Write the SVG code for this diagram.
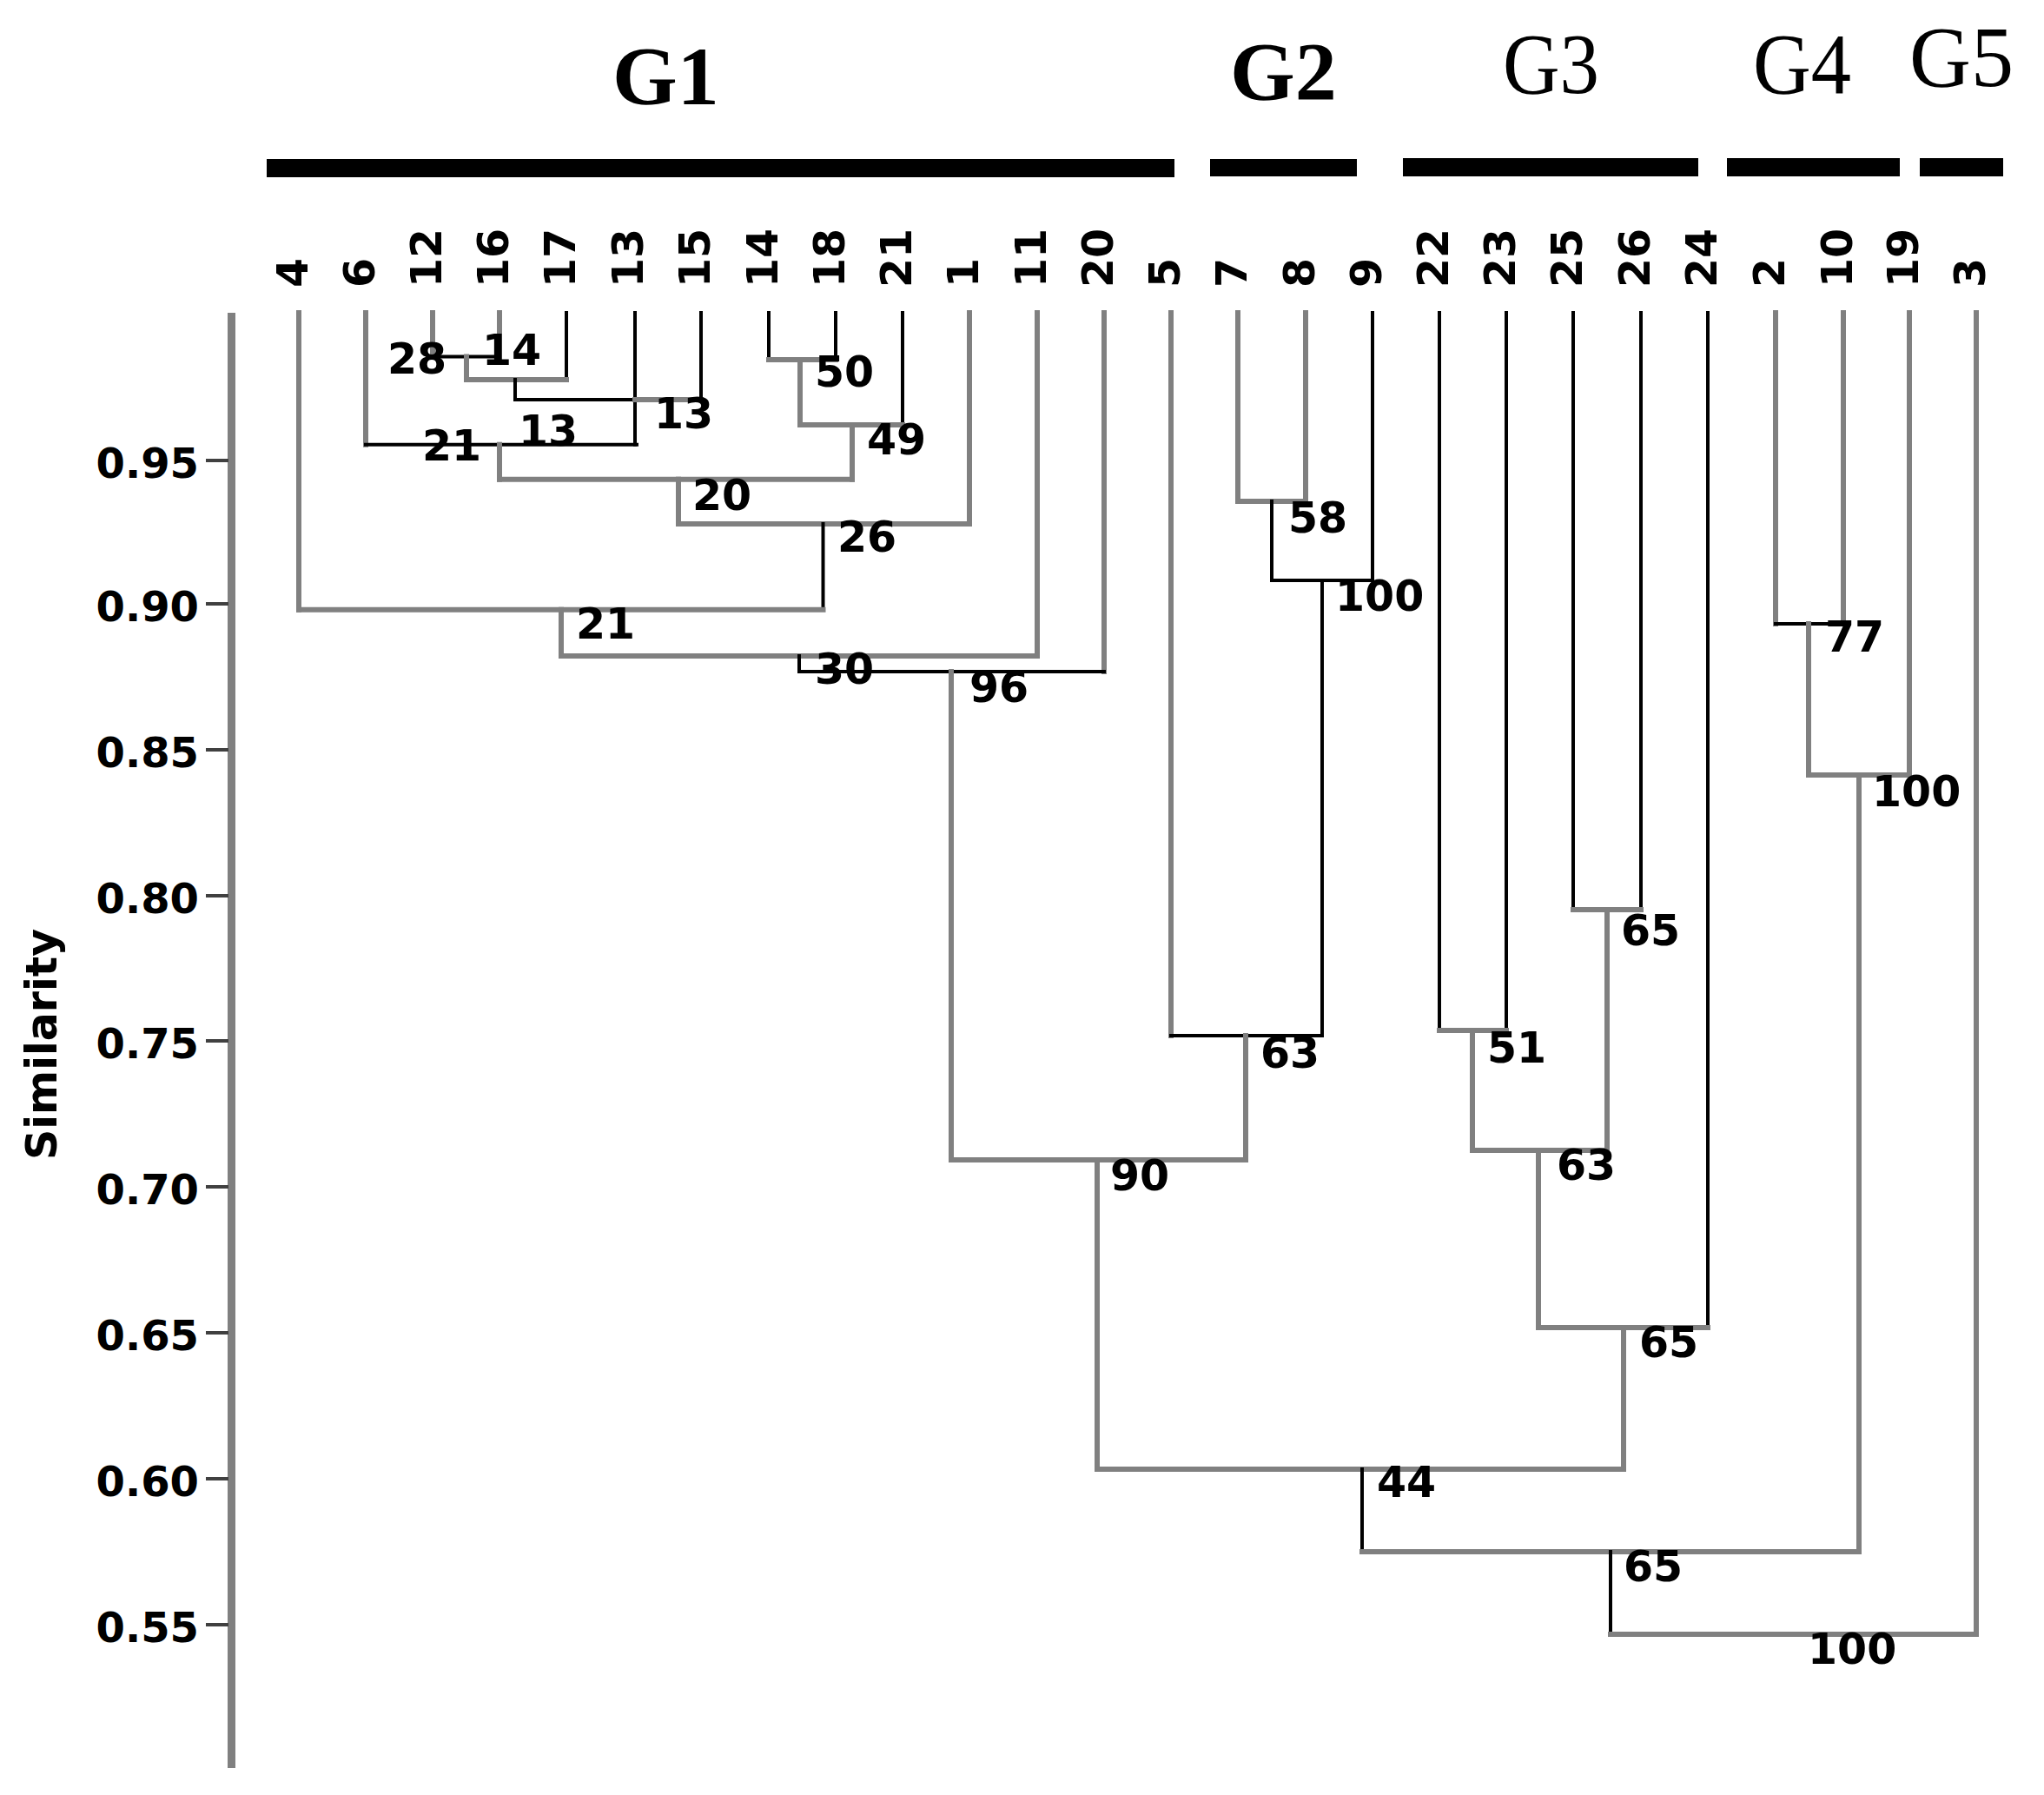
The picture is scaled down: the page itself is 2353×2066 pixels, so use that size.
<svg xmlns="http://www.w3.org/2000/svg" width="2353" height="2066" viewBox="0 0 2353 2066">
<style>
.g{stroke:#808080;stroke-width:6;fill:none;stroke-linecap:square}
.k{stroke:#000;stroke-width:4;fill:none;stroke-linecap:square}
.lb{font-family:"DejaVu Sans","Liberation Sans",sans-serif;font-weight:bold;font-size:49px;fill:#000}
.tk{font-family:"DejaVu Sans","Liberation Sans",sans-serif;font-weight:bold;font-size:48px;fill:#000;text-anchor:end}
.gt{font-family:"Liberation Serif","Times New Roman",serif;font-size:100px;fill:#000}
.gb{font-weight:bold;font-size:96px}
.bar{fill:#000}
.tick{stroke:#404040;stroke-width:4}
</style>
<rect width="2353" height="2066" fill="#fff"/>
<g id="groups">
<text class="gt gb" x="705" y="120">G1</text>
<text class="gt gb" x="1416" y="115">G2</text>
<text class="gt" x="1730" y="107" textLength="111" lengthAdjust="spacingAndGlyphs">G3</text>
<text class="gt" x="2018" y="107" textLength="113" lengthAdjust="spacingAndGlyphs">G4</text>
<text class="gt" x="2198" y="99" textLength="120" lengthAdjust="spacingAndGlyphs">G5</text>
<rect class="bar" x="307" y="183" width="1045" height="21"/>
<rect class="bar" x="1393" y="183" width="169" height="20"/>
<rect class="bar" x="1615" y="182" width="340" height="21"/>
<rect class="bar" x="1988" y="182" width="199" height="21"/>
<rect class="bar" x="2210" y="182" width="96" height="21"/>
</g>
<g id="axis">
<line x1="266.5" y1="360" x2="266.5" y2="2035" stroke="#808080" stroke-width="9"/>
<line class="tick" x1="237" y1="530" x2="263" y2="530"/>
<line class="tick" x1="237" y1="695" x2="263" y2="695"/>
<line class="tick" x1="237" y1="863" x2="263" y2="863"/>
<line class="tick" x1="237" y1="1031" x2="263" y2="1031"/>
<line class="tick" x1="237" y1="1198" x2="263" y2="1198"/>
<line class="tick" x1="237" y1="1366" x2="263" y2="1366"/>
<line class="tick" x1="237" y1="1534" x2="263" y2="1534"/>
<line class="tick" x1="237" y1="1702" x2="263" y2="1702"/>
<line class="tick" x1="237" y1="1870" x2="263" y2="1870"/>
<text class="tk" x="229" y="550">0.95</text>
<text class="tk" x="229" y="715">0.90</text>
<text class="tk" x="229" y="883">0.85</text>
<text class="tk" x="229" y="1051">0.80</text>
<text class="tk" x="229" y="1218">0.75</text>
<text class="tk" x="229" y="1386">0.70</text>
<text class="tk" x="229" y="1554">0.65</text>
<text class="tk" x="229" y="1722">0.60</text>
<text class="tk" x="229" y="1890">0.55</text>
<text class="lb" font-size="50" transform="translate(65,1335) rotate(-90)">Similarity</text>
</g>
<g id="connectors">
<line class="g" x1="344" y1="360" x2="344" y2="701.7"/>
<line class="g" x1="421" y1="360" x2="421" y2="511.7"/>
<line class="g" x1="498" y1="360" x2="498" y2="410.5"/>
<line class="g" x1="575" y1="360" x2="575" y2="411"/>
<line class="k" x1="652" y1="360" x2="652" y2="437"/>
<line class="k" x1="731" y1="360" x2="731" y2="511.7"/>
<line class="k" x1="807" y1="360" x2="807" y2="460"/>
<line class="k" x1="885" y1="360" x2="885" y2="414"/>
<line class="k" x1="962" y1="360" x2="962" y2="414"/>
<line class="k" x1="1039" y1="360" x2="1039" y2="489"/>
<line class="g" x1="1116" y1="360" x2="1116" y2="603"/>
<line class="g" x1="1194" y1="360" x2="1194" y2="755"/>
<line class="g" x1="1271" y1="360" x2="1271" y2="773"/>
<line class="g" x1="1348" y1="360" x2="1348" y2="1192"/>
<line class="g" x1="1425" y1="360" x2="1425" y2="577"/>
<line class="g" x1="1503" y1="360" x2="1503" y2="577"/>
<line class="k" x1="1580" y1="360" x2="1580" y2="668"/>
<line class="k" x1="1657" y1="360" x2="1657" y2="1186"/>
<line class="k" x1="1734" y1="360" x2="1734" y2="1186"/>
<line class="k" x1="1811" y1="360" x2="1811" y2="1047"/>
<line class="k" x1="1889" y1="360" x2="1889" y2="1047"/>
<line class="k" x1="1966" y1="360" x2="1966" y2="1528"/>
<line class="g" x1="2044" y1="360" x2="2044" y2="718"/>
<line class="g" x1="2122" y1="360" x2="2122" y2="718"/>
<line class="g" x1="2198" y1="360" x2="2198" y2="892"/>
<line class="g" x1="2275" y1="360" x2="2275" y2="1881"/>
<line class="k" x1="498" y1="410.5" x2="575" y2="410.5"/>
<line class="g" x1="537" y1="410.5" x2="537" y2="437"/>
<line class="g" x1="537" y1="437" x2="652" y2="437"/>
<line class="k" x1="593" y1="437" x2="593" y2="460"/>
<line class="k" x1="593" y1="460" x2="731" y2="460"/>
<line class="g" x1="731" y1="460" x2="807" y2="460"/>
<line class="k" x1="421" y1="511.7" x2="733" y2="511.7"/>
<line class="g" x1="575" y1="511.7" x2="575" y2="551.7"/>
<line class="g" x1="885" y1="414" x2="962" y2="414"/>
<line class="g" x1="921" y1="414" x2="921" y2="489"/>
<line class="g" x1="921" y1="489" x2="1039" y2="489"/>
<line class="g" x1="981" y1="489" x2="981" y2="551.7"/>
<line class="g" x1="575" y1="551.7" x2="981" y2="551.7"/>
<line class="g" x1="781" y1="551.7" x2="781" y2="603"/>
<line class="g" x1="781" y1="603" x2="1116" y2="603"/>
<line class="k" x1="947.5" y1="603" x2="947.5" y2="701.7"/>
<line class="g" x1="344" y1="701.7" x2="947.5" y2="701.7"/>
<line class="g" x1="646" y1="701.7" x2="646" y2="755"/>
<line class="g" x1="646" y1="755" x2="1194" y2="755"/>
<line class="k" x1="920" y1="755" x2="920" y2="773"/>
<line class="k" x1="920" y1="773" x2="1271" y2="773"/>
<line class="g" x1="1095" y1="773" x2="1095" y2="1335"/>
<line class="g" x1="1425" y1="577" x2="1503" y2="577"/>
<line class="k" x1="1464" y1="577" x2="1464" y2="668"/>
<line class="k" x1="1464" y1="668" x2="1580" y2="668"/>
<line class="k" x1="1522" y1="668" x2="1522" y2="1192"/>
<line class="k" x1="1348" y1="1192" x2="1522" y2="1192"/>
<line class="g" x1="1434" y1="1192" x2="1434" y2="1335"/>
<line class="g" x1="1095" y1="1335" x2="1434" y2="1335"/>
<line class="g" x1="1263" y1="1335" x2="1263" y2="1691"/>
<line class="g" x1="1657" y1="1186" x2="1734" y2="1186"/>
<line class="g" x1="1695" y1="1186" x2="1695" y2="1324"/>
<line class="g" x1="1811" y1="1047" x2="1889" y2="1047"/>
<line class="g" x1="1850" y1="1047" x2="1850" y2="1324"/>
<line class="g" x1="1695" y1="1324" x2="1850" y2="1324"/>
<line class="g" x1="1771" y1="1324" x2="1771" y2="1528"/>
<line class="g" x1="1771" y1="1528" x2="1966" y2="1528"/>
<line class="g" x1="1869" y1="1528" x2="1869" y2="1691"/>
<line class="g" x1="1263" y1="1691" x2="1869" y2="1691"/>
<line class="k" x1="1568" y1="1691" x2="1568" y2="1786"/>
<line class="k" x1="2044" y1="718" x2="2122" y2="718"/>
<line class="g" x1="2082" y1="718" x2="2082" y2="892"/>
<line class="g" x1="2082" y1="892" x2="2198" y2="892"/>
<line class="g" x1="2140" y1="892" x2="2140" y2="1786"/>
<line class="g" x1="1568" y1="1786" x2="2140" y2="1786"/>
<line class="k" x1="1854" y1="1786" x2="1854" y2="1881"/>
<line class="g" x1="1854" y1="1881" x2="2275" y2="1881"/>
</g>
<g id="leaves">
<g id="leaf-4"><text class="lb" transform="translate(354,331) rotate(-90)">4</text></g>
<g id="leaf-6"><text class="lb" transform="translate(431,331) rotate(-90)">6</text></g>
<g id="leaf-12"><text class="lb" transform="translate(508,331) rotate(-90)">12</text></g>
<g id="leaf-16"><text class="lb" transform="translate(585,331) rotate(-90)">16</text></g>
<g id="leaf-17"><text class="lb" transform="translate(662,331) rotate(-90)">17</text></g>
<g id="leaf-13"><text class="lb" transform="translate(740,331) rotate(-90)">13</text></g>
<g id="leaf-15"><text class="lb" transform="translate(817,331) rotate(-90)">15</text></g>
<g id="leaf-14"><text class="lb" transform="translate(895,331) rotate(-90)">14</text></g>
<g id="leaf-18"><text class="lb" transform="translate(972,331) rotate(-90)">18</text></g>
<g id="leaf-21"><text class="lb" transform="translate(1049,331) rotate(-90)">21</text></g>
<g id="leaf-1"><text class="lb" transform="translate(1126,331) rotate(-90)">1</text></g>
<g id="leaf-11"><text class="lb" transform="translate(1204,331) rotate(-90)">11</text></g>
<g id="leaf-20"><text class="lb" transform="translate(1281,331) rotate(-90)">20</text></g>
<g id="leaf-5"><text class="lb" transform="translate(1358,331) rotate(-90)">5</text></g>
<g id="leaf-7"><text class="lb" transform="translate(1435,331) rotate(-90)">7</text></g>
<g id="leaf-8"><text class="lb" transform="translate(1513,331) rotate(-90)">8</text></g>
<g id="leaf-9"><text class="lb" transform="translate(1590,331) rotate(-90)">9</text></g>
<g id="leaf-22"><text class="lb" transform="translate(1667,331) rotate(-90)">22</text></g>
<g id="leaf-23"><text class="lb" transform="translate(1744,331) rotate(-90)">23</text></g>
<g id="leaf-25"><text class="lb" transform="translate(1821,331) rotate(-90)">25</text></g>
<g id="leaf-26"><text class="lb" transform="translate(1899,331) rotate(-90)">26</text></g>
<g id="leaf-24"><text class="lb" transform="translate(1976,331) rotate(-90)">24</text></g>
<g id="leaf-2"><text class="lb" transform="translate(2054,331) rotate(-90)">2</text></g>
<g id="leaf-10"><text class="lb" transform="translate(2132,331) rotate(-90)">10</text></g>
<g id="leaf-19"><text class="lb" transform="translate(2208,331) rotate(-90)">19</text></g>
<g id="leaf-3"><text class="lb" transform="translate(2285,331) rotate(-90)">3</text></g>
</g>
<g id="node-labels">
<g id="n1"><text class="lb" x="446" y="430">28</text></g>
<g id="n2"><text class="lb" x="555" y="420">14</text></g>
<g id="n3"><text class="lb" x="753" y="493">13</text></g>
<g id="n4"><text class="lb" x="486" y="530">21</text></g>
<g id="n5"><text class="lb" x="597" y="513">13</text></g>
<g id="n6"><text class="lb" x="938" y="445">50</text></g>
<g id="n7"><text class="lb" x="998" y="523">49</text></g>
<g id="n8"><text class="lb" x="797" y="587">20</text></g>
<g id="n9"><text class="lb" x="964" y="635">26</text></g>
<g id="n10"><text class="lb" x="663" y="735">21</text></g>
<g id="n11"><text class="lb" x="938" y="787">30</text></g>
<g id="n12"><text class="lb" x="1116" y="808">96</text></g>
<g id="n13"><text class="lb" x="1483" y="613">58</text></g>
<g id="n14"><text class="lb" x="1537" y="703">100</text></g>
<g id="n15"><text class="lb" x="1451" y="1229">63</text></g>
<g id="n16"><text class="lb" x="1278" y="1370">90</text></g>
<g id="n17"><text class="lb" x="1712" y="1223">51</text></g>
<g id="n18"><text class="lb" x="1866" y="1088">65</text></g>
<g id="n19"><text class="lb" x="1792" y="1358">63</text></g>
<g id="n20"><text class="lb" x="1887" y="1562">65</text></g>
<g id="n21"><text class="lb" x="1585" y="1723">44</text></g>
<g id="n22"><text class="lb" x="1869" y="1820">65</text></g>
<g id="n23"><text class="lb" x="2081" y="1915">100</text></g>
<g id="n24"><text class="lb" x="2101" y="750">77</text></g>
<g id="n25"><text class="lb" x="2155" y="928">100</text></g>
</g>
</svg>
